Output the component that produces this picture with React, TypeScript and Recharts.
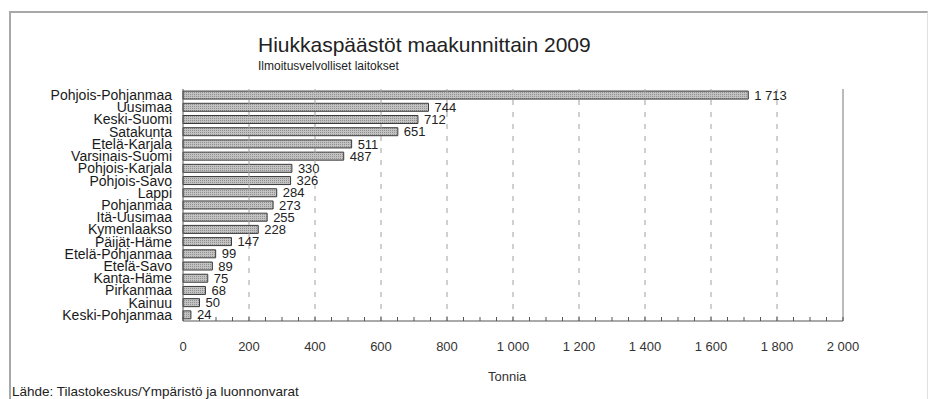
import React from 'react';
import { BarChart, Bar, XAxis, YAxis, ReferenceLine, LabelList } from 'recharts';

const regions = [
  'Pohjois-Pohjanmaa', 'Uusimaa', 'Keski-Suomi', 'Satakunta', 'Etelä-Karjala',
  'Varsinais-Suomi', 'Pohjois-Karjala', 'Pohjois-Savo', 'Lappi', 'Pohjanmaa',
  'Itä-Uusimaa', 'Kymenlaakso', 'Päijät-Häme', 'Etelä-Pohjanmaa', 'Etelä-Savo',
  'Kanta-Häme', 'Pirkanmaa', 'Kainuu', 'Keski-Pohjanmaa',
];
const tonnes = [1713, 744, 712, 651, 511, 487, 330, 326, 284, 273, 255, 228, 147, 99, 89, 75, 68, 50, 24];

const majorTicks = [0, 200, 400, 600, 800, 1000, 1200, 1400, 1600, 1800, 2000];
// minor tick marks every 50
const allTicks = Array.from({ length: 41 }, (_, i) => i * 50);

const data = regions.map((name, i) => ({ name, value: tonnes[i] }));

const font = 'Arial, "Liberation Sans", sans-serif';
const fmt = (v: number) => String(v).replace(/\B(?=(\d{3})+(?!\d))/g, ' ');

const XTick = ({ x, y, payload }: any) => {
  const major = payload.value % 200 === 0;
  return (
    <g>
      <line x1={x} x2={x} y1={y} y2={y - 4} stroke="#555" />
      {major && (
        <text x={x} y={y + 30} textAnchor="middle" fontSize={13} fill="#333" fontFamily={font}>
          {fmt(payload.value)}
        </text>
      )}
    </g>
  );
};

export default function App() {
  return (
    <div style={{ position: 'absolute', left: 0, top: 0, width: 928, height: 399, overflow: 'hidden', background: '#fff', fontFamily: font }}>
      <div style={{ position: 'absolute', left: 9, top: 11, width: 916, height: 400, borderLeft: '2px solid #a8a8a8', borderTop: '2px solid #a8a8a8', borderRight: '1px solid #e0e0e0' }} />
      <div style={{ position: 'absolute', left: 258, top: 33, fontSize: 21, color: '#222', whiteSpace: 'nowrap' }}>
        Hiukkaspäästöt maakunnittain 2009
      </div>
      <div style={{ position: 'absolute', left: 258, top: 59, fontSize: 12, color: '#222', whiteSpace: 'nowrap' }}>
        Ilmoitusvelvolliset laitokset
      </div>
      <div style={{ position: 'absolute', left: 488, top: 369, fontSize: 13, color: '#333', whiteSpace: 'nowrap' }}>
        Tonnia
      </div>
      <div style={{ position: 'absolute', left: 12, top: 384, fontSize: 13.5, color: '#222', whiteSpace: 'nowrap' }}>
        Lähde: Tilastokeskus/Ympäristö ja luonnonvarat
      </div>
      <div style={{ position: 'absolute', left: 0, top: 0 }}>
        <BarChart
          width={928}
          height={399}
          data={data}
          layout="vertical"
          margin={{ top: 89, right: 85, bottom: 38, left: 0 }}
          barCategoryGap="17%"
        >
          <defs>
            <pattern id="hatch" width="2" height="2" patternUnits="userSpaceOnUse">
              <rect width="2" height="2" fill="#c2c2c2" />
              <rect width="1" height="1" fill="#909090" />
            </pattern>
          </defs>
          <XAxis
            type="number"
            domain={[0, 2000]}
            ticks={allTicks}
            interval={0}
            tickSize={0}
            tickMargin={0}
            tickLine={false}
            tick={<XTick />}
            height={40}
            axisLine={{ stroke: '#555' }}
          />
          <XAxis
            xAxisId="top"
            orientation="top"
            type="number"
            domain={[0, 2000]}
            tick={false}
            tickLine={false}
            height={0}
            axisLine={{ stroke: '#888' }}
          />
          <YAxis
            type="category"
            dataKey="name"
            width={183}
            interval={0}
            tickLine={false}
            tickMargin={5}
            axisLine={{ stroke: '#555' }}
            tick={{ fontSize: 14, fill: '#1a1a1a', fontFamily: font }}
          />
          {majorTicks.slice(1, -1).map((v) => (
            <ReferenceLine key={v} x={v} stroke="#a0a0a0" strokeDasharray="5 7" />
          ))}
          <ReferenceLine x={2000} stroke="#777" />
          <Bar dataKey="value" fill="url(#hatch)" stroke="#3a3a3a" strokeWidth={1} isAnimationActive={false}>
            <LabelList
              dataKey="value"
              position="right"
              offset={6}
              formatter={(v: any) => fmt(Number(v))}
              style={{ fontSize: 13, fill: '#222', fontFamily: font }}
            />
          </Bar>
        </BarChart>
      </div>
    </div>
  );
}
